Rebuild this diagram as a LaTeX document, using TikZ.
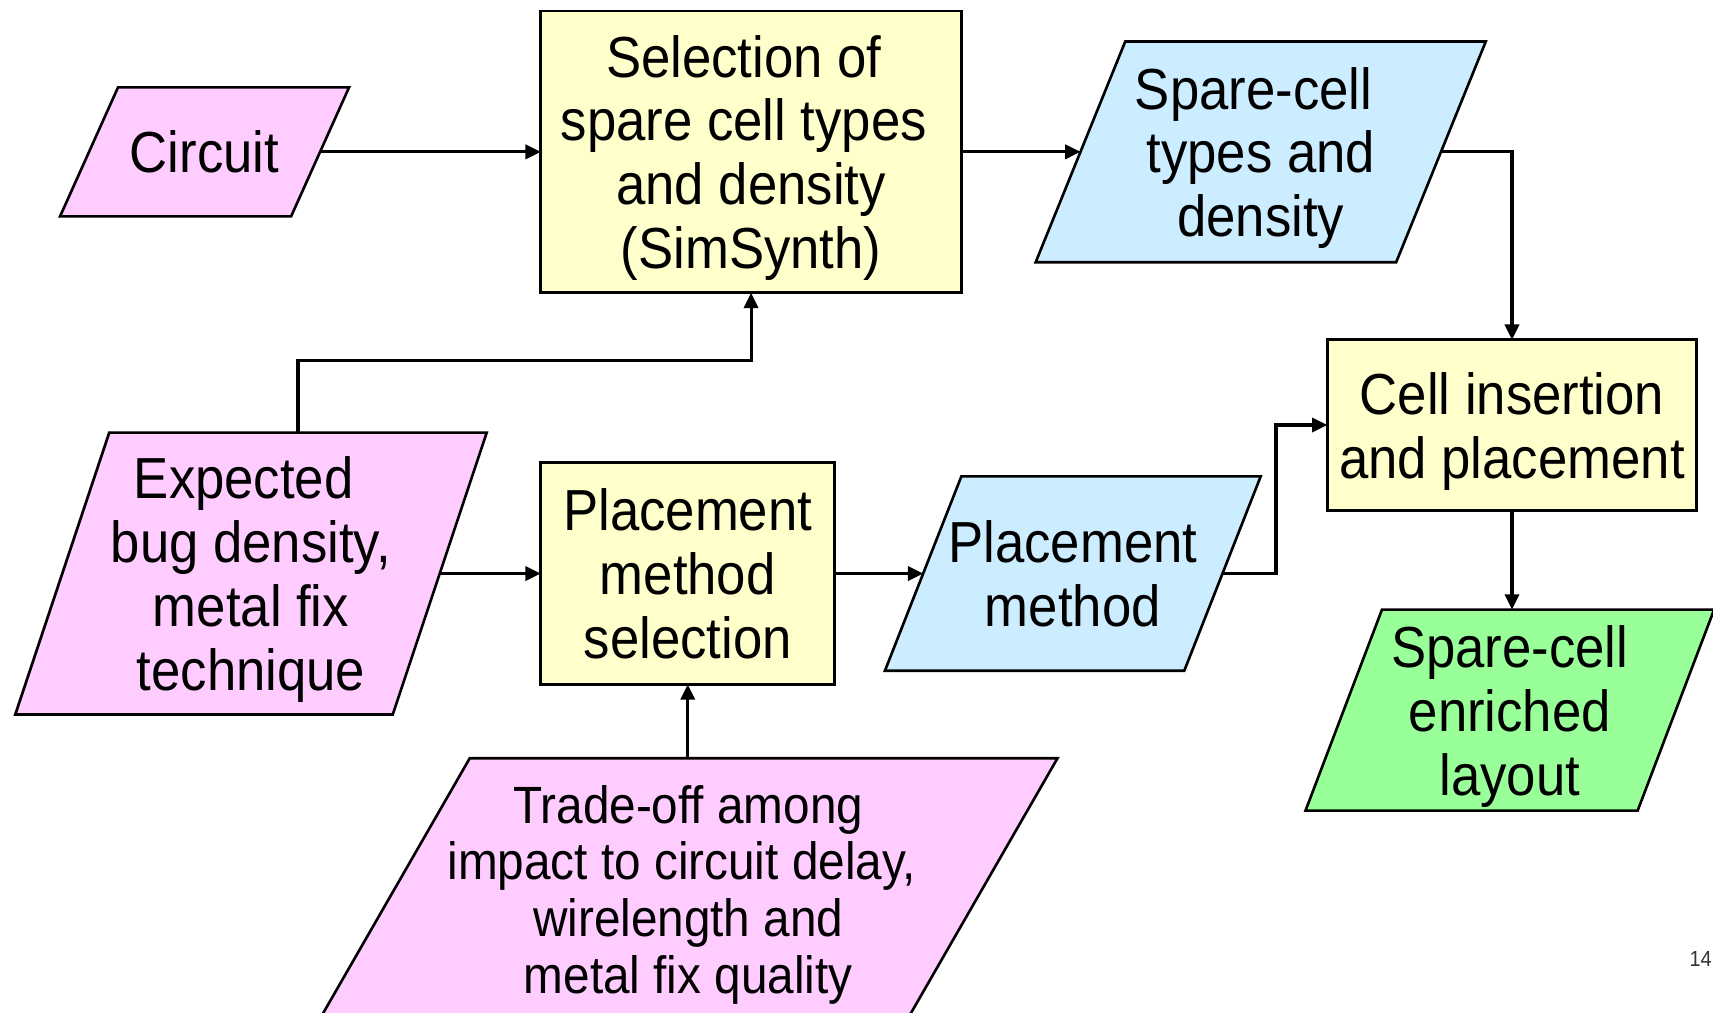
\documentclass[tikz,border=0pt]{standalone}
\usepackage{fontspec}
\setmainfont{Liberation Sans}[FakeStretch=0.91]
\usetikzlibrary{arrows.meta}

% A parallelogram shape: its anchors are those of the rectangle through the
% middle of the slanted sides, so west/east sit on the slanted edges.
\makeatletter
\newdimen\slxa \newdimen\slxb \newdimen\slya \newdimen\slyb \newdimen\sls
\pgfkeys{/pgf/para slant/.initial=0pt}
\pgfdeclareshape{slantbox}{%
  \inheritsavedanchors[from=rectangle]%
  \inheritanchorborder[from=rectangle]%
  \inheritanchor[from=rectangle]{center}%
  \inheritanchor[from=rectangle]{north}%
  \inheritanchor[from=rectangle]{south}%
  \inheritanchor[from=rectangle]{east}%
  \inheritanchor[from=rectangle]{west}%
  \inheritanchor[from=rectangle]{text}%
  \backgroundpath{%
    \southwest \slxa=\pgf@x \slya=\pgf@y
    \northeast \slxb=\pgf@x \slyb=\pgf@y
    \pgfmathsetlength\sls{\pgfkeysvalueof{/pgf/para slant}}%
    \pgfpathmoveto{\pgfqpoint{\dimexpr\slxa+\sls\relax}{\slyb}}%
    \pgfpathlineto{\pgfqpoint{\dimexpr\slxb+\sls\relax}{\slyb}}%
    \pgfpathlineto{\pgfqpoint{\dimexpr\slxb-\sls\relax}{\slya}}%
    \pgfpathlineto{\pgfqpoint{\dimexpr\slxa-\sls\relax}{\slya}}%
    \pgfpathclose
  }%
}
\makeatother

% struts that give every text block a full first-line ascent and last-line descent
\newcommand\topstrt{\rule{0pt}{0.94em}}
\newcommand\botstrt{\rule[-0.212em]{0pt}{0.212em}}
% room left by a wrapped line's trailing space
\newcommand\trsp{\kern0.25em}

\definecolor{inpink}{HTML}{FFCCFF}
\definecolor{procyellow}{HTML}{FFFFCC}
\definecolor{datablue}{HTML}{CCECFF}
\definecolor{outgreen}{HTML}{99FF99}

\tikzset{
  base/.style={draw=black, line width=2.4pt, inner sep=0pt, outer sep=0pt,
    align=center, font=\fontsize{53}{58.5}\selectfont},
  procbox/.style={base, rectangle, fill=procyellow},
  para/.style={base, shape=slantbox},
  arr/.style={line width=2.8pt, -{Triangle[length=14pt,width=13pt]}},
}

\begin{document}
\begin{tikzpicture}[x=1pt, y=-1pt]
\useasboundingbox (0,0) rectangle (1568,927);
\fill[white] (0,0) rectangle (1568,927);
\clip (0,0) rectangle (1568,927);

% process boxes
\node[procbox, minimum width=385pt, minimum height=258pt] (sel) at (687.5,139)
  {\topstrt Selection of\trsp\\spare cell types\trsp\\and density\\(SimSynth)\botstrt};
\node[procbox, minimum width=338pt, minimum height=156pt] (cell) at (1384,389)
  {\topstrt Cell insertion\\and placement\botstrt};
\node[procbox, minimum width=269pt, minimum height=203pt] (psel) at (629.5,525)
  {\topstrt Placement\\method\\selection\botstrt};

% data (parallelogram) nodes
\node[para, fill=inpink, minimum width=211.5pt, minimum height=118pt, para slant=26.5pt]
  (circ) at (187.25,139) {\topstrt Circuit\botstrt};
\node[para, fill=datablue, minimum width=330pt, minimum height=202pt, para slant=41pt]
  (spare) at (1154,139) {\topstrt Spare-cell\trsp\\types and\\density\botstrt};
\node[para, fill=inpink, minimum width=345.5pt, minimum height=258pt, para slant=43pt]
  (expc) at (229.75,525) {\topstrt Expected\trsp\\bug density,\\metal fix\\technique\botstrt};
\node[para, fill=datablue, minimum width=274pt, minimum height=178pt, para slant=35pt]
  (pm) at (982,525) {\topstrt Placement\\method\botstrt};
\node[para, fill=outgreen, minimum width=304pt, minimum height=184pt, para slant=35pt]
  (green) at (1382,650) {\topstrt Spare-cell\\enriched\\layout\botstrt};
\node[para, fill=inpink, minimum width=538pt, minimum height=240pt, para slant=69pt,
  font=\fontsize{48}{52}\selectfont]
  (trade) at (630,814)
  {\topstrt Trade-off among\\impact to circuit delay,\trsp\\wirelength and\\metal fix quality\botstrt};

% page number
\node[anchor=east, inner sep=0pt, text=black!80, font=\fontsize{20}{24}\selectfont]
  (pageno) at (1567,878) {14};

% connectors
\draw[arr] (circ.east) -- (sel.west);
\draw[arr] (sel.east) -- (spare.west);
\draw[arr] (spare.east) -| (cell.north);
\draw[arr] ([xshift=43pt]expc.north) -- ++(0,-66) -| (sel.south);
\draw[arr] (expc.east) -- (psel.west);
\draw[arr] (psel.east) -- (pm.west);
\draw[arr] (pm.east) -- ++(49,0) |- (cell.west);
\draw[arr] (cell.south) -- (cell.south |- green.north);
\draw[arr] (trade.north -| psel.south) -- (psel.south);
\end{tikzpicture}
\end{document}
